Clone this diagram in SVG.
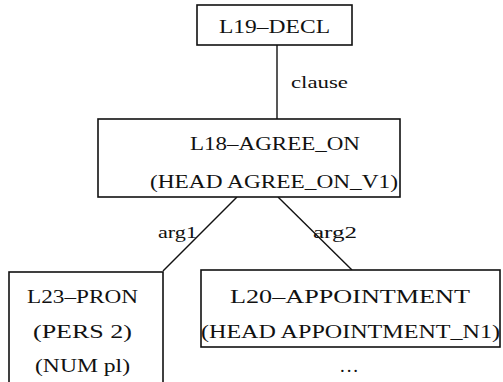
<svg xmlns="http://www.w3.org/2000/svg" width="503" height="382" viewBox="0 0 503 382">
  <style>
    .box { fill: #ffffff; stroke: #111111; stroke-width: 1.6; }
    .edge { stroke: #111111; stroke-width: 1.4; fill: none; }
    text { font-family: "Liberation Serif", "DejaVu Serif", serif; font-size: 19px; fill: #111111; }
    .lbl { font-size: 17px; }
  </style>
  <rect width="503" height="382" fill="#ffffff"/>

  <g id="connectors">
    <line class="edge" x1="277" y1="45" x2="277" y2="119"/>
    <line class="edge" x1="237" y1="197" x2="163" y2="271"/>
    <line class="edge" x1="278" y1="197" x2="352" y2="270"/>
    <text class="lbl" x="291" y="88" textLength="57" lengthAdjust="spacingAndGlyphs">clause</text>
    <text class="lbl" x="158" y="238" textLength="39" lengthAdjust="spacingAndGlyphs">arg1</text>
    <text class="lbl" x="313" y="238" textLength="44" lengthAdjust="spacingAndGlyphs">arg2</text>
  </g>

  <g id="L19-DECL">
    <rect class="box" x="197" y="5" width="155" height="40"/>
    <text x="219" y="33" textLength="111" lengthAdjust="spacingAndGlyphs">L19–DECL</text>
  </g>

  <g id="L18-AGREE_ON">
    <rect class="box" x="98" y="119" width="302" height="78"/>
    <text x="190" y="150" textLength="170" lengthAdjust="spacingAndGlyphs">L18–AGREE_ON</text>
    <text x="150" y="188" textLength="248" lengthAdjust="spacingAndGlyphs">(HEAD AGREE_ON_V1)</text>
  </g>

  <g id="L23-PRON">
    <rect class="box" x="9" y="272" width="154" height="120"/>
    <text x="27" y="303" textLength="111" lengthAdjust="spacingAndGlyphs">L23–PRON</text>
    <text x="33" y="338" textLength="99" lengthAdjust="spacingAndGlyphs">(PERS 2)</text>
    <text x="35" y="372" textLength="95" lengthAdjust="spacingAndGlyphs">(NUM pl)</text>
  </g>

  <g id="L20-APPOINTMENT">
    <rect class="box" x="201" y="270" width="299" height="77"/>
    <text x="230" y="303" textLength="240" lengthAdjust="spacingAndGlyphs">L20–APPOINTMENT</text>
    <text x="201" y="338" textLength="299" lengthAdjust="spacingAndGlyphs">(HEAD APPOINTMENT_N1)</text>
    <text x="340" y="372" textLength="18" lengthAdjust="spacing">...</text>
  </g>
</svg>
